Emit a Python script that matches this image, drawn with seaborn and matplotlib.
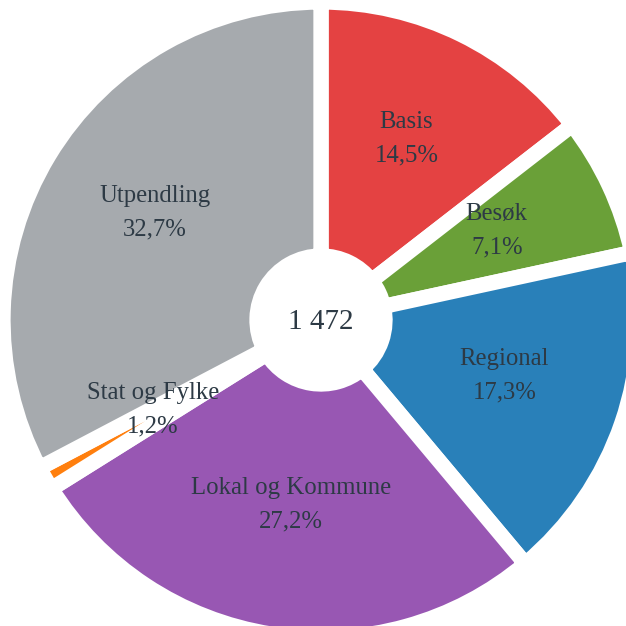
import matplotlib
matplotlib.use("Agg")
import matplotlib.pyplot as plt
import seaborn as sns

names = ["Basis", "Besøk", "Regional", "Lokal og Kommune", "Stat og Fylke", "Utpendling"]
shares = [14.5, 7.1, 17.3, 27.2, 1.2, 32.7]
colors = ["#E44242", "#6AA038", "#2980B9", "#9857B3", "#FF7F0E", "#A6AAAE"]
total = "1 472"

sns.set_theme(style="white")
plt.rcParams['font.family'] = ['Liberation Serif', 'DejaVu Serif']

fig = plt.figure(figsize=(6.26, 6.26), dpi=100)
ax = fig.add_axes([0, 0, 1, 1])

label_iter = iter(names)
def fmt(p):
    return f"{next(label_iter)}\n{p:.1f}%".replace(".", ",")

wedges, texts, autotexts = ax.pie(
    shares, colors=colors, startangle=90, counterclock=False,
    radius=1.0, autopct=fmt, pctdistance=0.61,
    wedgeprops=dict(width=254 / 318, edgecolor="white", linewidth=11),
    textprops=dict(color="#2D3A45", fontsize=17.8, linespacing=1.7),
)
# nudge the labels up a little, like the original
for t in autotexts:
    x, y = t.get_position()
    t.set_position((x, y + 7 / 318))

ax.text(0, -2 / 318, total, ha="center", va="center", fontsize=21, color="#2D3A45")

ax.set_aspect("equal")
ax.set_xlim(-321 / 318, 305 / 318)
ax.set_ylim(-306 / 318, 320 / 318)
ax.axis("off")

fig.savefig("out.png", dpi=100, facecolor="white")
